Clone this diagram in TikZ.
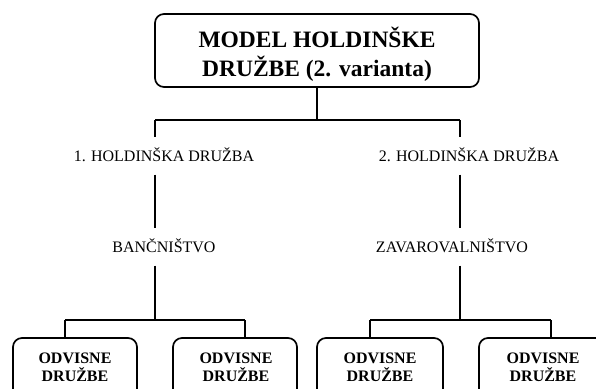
\documentclass[tikz,border=0pt]{standalone}
\usepackage{fontspec}
\setmainfont{Liberation Serif}
\begin{document}
\begin{tikzpicture}[x=1pt,y=-1pt,
  frame/.style={draw, line width=1.7pt, rounded corners=9pt, anchor=north west, inner sep=0pt, outer sep=0pt},
  link/.style={line width=1.7pt},
  headline/.style={font=\fontsize{23.5}{29}\selectfont\bfseries, align=center, inner sep=0pt},
  label/.style={font=\fontsize{16}{18}\selectfont, inner sep=0pt, text height=10.6pt, text depth=0pt, minimum height=37pt},
  sub/.style={font=\fontsize{16}{18}\selectfont\bfseries, align=center, inner sep=0pt}]
\useasboundingbox (0,0) rectangle (596,388);
\clip (0,0) rectangle (596,388);

% top box
\node[frame, minimum width=324pt, minimum height=73pt] (top) at (155,14) {};
\node[headline] (toptext) at (317,54) {MODEL HOLDINŠKE\\DRUŽBE (2. varianta)};

% middle labels
\node[label] (hold1) at (164,156) {1. HOLDINŠKA DRUŽBA};
\node[label] (hold2) at (469,156) {2. HOLDINŠKA DRUŽBA};
\node[label] (bank) at (164,247) {BANČNIŠTVO};
\node[label] (ins) at (452,247) {ZAVAROVALNIŠTVO};

% subsidiary boxes
\node[frame, minimum width=124pt, minimum height=70pt] (d1) at (13,338) {};
\node[frame, minimum width=124pt, minimum height=70pt] (d2) at (173,338) {};
\node[frame, minimum width=126pt, minimum height=70pt] (d3) at (317,338) {};
\node[frame, minimum width=128pt, minimum height=70pt] (d4) at (479,338) {};
\node[sub] (d1t) at (75,367.5) {ODVISNE\\DRUŽBE};
\node[sub] (d2t) at (236,367.5) {ODVISNE\\DRUŽBE};
\node[sub] (d3t) at (380,367.5) {ODVISNE\\DRUŽBE};
\node[sub] (d4t) at (543,367.5) {ODVISNE\\DRUŽBE};

% junction points
\coordinate (jl) at (155,120);
\coordinate (jr) at (460,120);
\coordinate (j0) at (top.south |- jl);
\coordinate (bl) at (155,320);
\coordinate (br) at (460,320);
\coordinate (c1) at (65,320);
\coordinate (c2) at (245,320);
\coordinate (c3) at (370,320);
\coordinate (c4) at (551,320);

% connectors
\draw[link] (top.south) -- (j0);
\draw[link] (jl) -- (jr);
\draw[link] (jl) -- (jl |- hold1.north);
\draw[link] (jr) -- (jr |- hold2.north);
\draw[link] (jl |- hold1.south) -- (jl |- bank.north);
\draw[link] (jr |- hold2.south) -- (jr |- ins.north);
\draw[link] (jl |- bank.south) -- (bl);
\draw[link] (jr |- ins.south) -- (br);
\draw[link] (c1) -- (c2);
\draw[link] (c3) -- (c4);
\draw[link] (c1) -- (c1 |- d1.north);
\draw[link] (c2) -- (c2 |- d2.north);
\draw[link] (c3) -- (c3 |- d3.north);
\draw[link] (c4) -- (c4 |- d4.north);
\end{tikzpicture}
\end{document}
